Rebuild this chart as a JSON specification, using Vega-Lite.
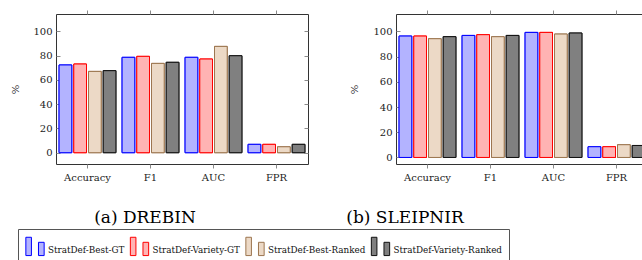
{
  "$schema": "https://vega.github.io/schema/vega-lite/v6.json",
  "background": "white",
  "padding": {"left": 9, "top": 9, "right": 0, "bottom": 0},
  "bounds": "flush",
  "spacing": 88,
  "data": {"values": [
    {"dataset": "DREBIN", "metric": "Accuracy", "method": "StratDef-Best-GT", "value": 72.3},
    {"dataset": "DREBIN", "metric": "Accuracy", "method": "StratDef-Variety-GT", "value": 73.1},
    {"dataset": "DREBIN", "metric": "Accuracy", "method": "StratDef-Best-Ranked", "value": 67.0},
    {"dataset": "DREBIN", "metric": "Accuracy", "method": "StratDef-Variety-Ranked", "value": 67.6},
    {"dataset": "DREBIN", "metric": "F1", "method": "StratDef-Best-GT", "value": 78.6},
    {"dataset": "DREBIN", "metric": "F1", "method": "StratDef-Variety-GT", "value": 79.4},
    {"dataset": "DREBIN", "metric": "F1", "method": "StratDef-Best-Ranked", "value": 73.6},
    {"dataset": "DREBIN", "metric": "F1", "method": "StratDef-Variety-Ranked", "value": 74.5},
    {"dataset": "DREBIN", "metric": "AUC", "method": "StratDef-Best-GT", "value": 78.6},
    {"dataset": "DREBIN", "metric": "AUC", "method": "StratDef-Variety-GT", "value": 77.2},
    {"dataset": "DREBIN", "metric": "AUC", "method": "StratDef-Best-Ranked", "value": 87.6},
    {"dataset": "DREBIN", "metric": "AUC", "method": "StratDef-Variety-Ranked", "value": 79.9},
    {"dataset": "DREBIN", "metric": "FPR", "method": "StratDef-Best-GT", "value": 6.9},
    {"dataset": "DREBIN", "metric": "FPR", "method": "StratDef-Variety-GT", "value": 6.9},
    {"dataset": "DREBIN", "metric": "FPR", "method": "StratDef-Best-Ranked", "value": 4.9},
    {"dataset": "DREBIN", "metric": "FPR", "method": "StratDef-Variety-Ranked", "value": 6.9},
    {"dataset": "SLEIPNIR", "metric": "Accuracy", "method": "StratDef-Best-GT", "value": 96.3},
    {"dataset": "SLEIPNIR", "metric": "Accuracy", "method": "StratDef-Variety-GT", "value": 96.3},
    {"dataset": "SLEIPNIR", "metric": "Accuracy", "method": "StratDef-Best-Ranked", "value": 94.2},
    {"dataset": "SLEIPNIR", "metric": "Accuracy", "method": "StratDef-Variety-Ranked", "value": 95.8},
    {"dataset": "SLEIPNIR", "metric": "F1", "method": "StratDef-Best-GT", "value": 96.8},
    {"dataset": "SLEIPNIR", "metric": "F1", "method": "StratDef-Variety-GT", "value": 97.4},
    {"dataset": "SLEIPNIR", "metric": "F1", "method": "StratDef-Best-Ranked", "value": 95.8},
    {"dataset": "SLEIPNIR", "metric": "F1", "method": "StratDef-Variety-Ranked", "value": 96.8},
    {"dataset": "SLEIPNIR", "metric": "AUC", "method": "StratDef-Best-GT", "value": 99.2},
    {"dataset": "SLEIPNIR", "metric": "AUC", "method": "StratDef-Variety-GT", "value": 99.2},
    {"dataset": "SLEIPNIR", "metric": "AUC", "method": "StratDef-Best-Ranked", "value": 97.9},
    {"dataset": "SLEIPNIR", "metric": "AUC", "method": "StratDef-Variety-Ranked", "value": 98.7},
    {"dataset": "SLEIPNIR", "metric": "FPR", "method": "StratDef-Best-GT", "value": 8.5},
    {"dataset": "SLEIPNIR", "metric": "FPR", "method": "StratDef-Variety-GT", "value": 8.5},
    {"dataset": "SLEIPNIR", "metric": "FPR", "method": "StratDef-Best-Ranked", "value": 10.1},
    {"dataset": "SLEIPNIR", "metric": "FPR", "method": "StratDef-Variety-Ranked", "value": 9.5}
  ]},
  "hconcat": [
    {
      "width": 252,
      "height": 150,
      "title": {"text": "(a) DREBIN", "orient": "bottom", "dx": -37, "offset": 28},
      "transform": [{"filter": "datum.dataset === 'DREBIN'"}],
      "encoding": {
        "xOffset": {"field": "method", "type": "nominal",
                    "sort": ["StratDef-Best-GT", "StratDef-Variety-GT", "StratDef-Best-Ranked", "StratDef-Variety-Ranked"],
                    "scale": {"paddingInner": 0.136, "paddingOuter": 0.21}},
        "color": {"field": "method", "type": "nominal", "title": null,
                  "scale": {"domain": ["StratDef-Best-GT", "StratDef-Variety-GT", "StratDef-Best-Ranked", "StratDef-Variety-Ranked"],
                            "range": ["#b3b3ff", "#ffb3b3", "#ecd9c6", "#808080"]}},
        "stroke": {"field": "method", "type": "nominal", "title": null,
                   "scale": {"domain": ["StratDef-Best-GT", "StratDef-Variety-GT", "StratDef-Best-Ranked", "StratDef-Variety-Ranked"],
                             "range": ["#0000ff", "#ff0000", "#9c7650", "#111111"]}}
      },
      "layer": [
        {
          "mark": {"type": "bar", "strokeWidth": 1},
          "encoding": {
            "x": {"field": "metric", "type": "nominal", "sort": ["Accuracy", "F1", "AUC", "FPR"],
                  "scale": {"paddingInner": 0, "paddingOuter": 0},
                  "axis": {"orient": "bottom", "title": null, "labelAngle": 0, "tickSize": 4, "labelPadding": 4}},
            "y": {"field": "value", "type": "quantitative",
                  "scale": {"domain": [-9.3, 114.3], "nice": false, "zero": false},
                  "axis": {"orient": "left", "title": "%", "values": [0, 20, 40, 60, 80, 100], "tickSize": -4, "labelPadding": 8,
                           "titleX": -41, "titleY": 75, "titleAngle": -90, "titleBaseline": "middle", "titleAlign": "center"}}
          }
        },
        {
          "mark": {"type": "bar", "strokeWidth": 1},
          "encoding": {
            "x": {"field": "metric", "type": "nominal", "sort": ["Accuracy", "F1", "AUC", "FPR"],
                  "axis": {"orient": "top", "title": null, "labels": false, "tickSize": 4}},
            "y": {"field": "value", "type": "quantitative",
                  "axis": {"orient": "right", "title": null, "labels": false, "values": [0, 20, 40, 60, 80, 100], "tickSize": -4}}
          }
        }
      ],
      "resolve": {"axis": {"x": "independent", "y": "independent"}}
    },
    {
      "width": 252,
      "height": 150,
      "title": {"text": "(b) SLEIPNIR", "orient": "bottom", "dx": -117, "offset": 28},
      "transform": [{"filter": "datum.dataset === 'SLEIPNIR'"}],
      "encoding": {
        "xOffset": {"field": "method", "type": "nominal",
                    "sort": ["StratDef-Best-GT", "StratDef-Variety-GT", "StratDef-Best-Ranked", "StratDef-Variety-Ranked"],
                    "scale": {"paddingInner": 0.136, "paddingOuter": 0.21}},
        "color": {"field": "method", "type": "nominal", "title": null,
                  "scale": {"domain": ["StratDef-Best-GT", "StratDef-Variety-GT", "StratDef-Best-Ranked", "StratDef-Variety-Ranked"],
                            "range": ["#b3b3ff", "#ffb3b3", "#ecd9c6", "#808080"]}},
        "stroke": {"field": "method", "type": "nominal", "title": null,
                   "scale": {"domain": ["StratDef-Best-GT", "StratDef-Variety-GT", "StratDef-Best-Ranked", "StratDef-Variety-Ranked"],
                             "range": ["#0000ff", "#ff0000", "#9c7650", "#111111"]}}
      },
      "layer": [
        {
          "mark": {"type": "bar", "strokeWidth": 1},
          "encoding": {
            "x": {"field": "metric", "type": "nominal", "sort": ["Accuracy", "F1", "AUC", "FPR"],
                  "scale": {"paddingInner": 0, "paddingOuter": 0},
                  "axis": {"orient": "bottom", "title": null, "labelAngle": 0, "tickSize": 4, "labelPadding": 4}},
            "y": {"field": "value", "type": "quantitative",
                  "scale": {"domain": [-5.2, 113.8], "nice": false, "zero": false},
                  "axis": {"orient": "left", "title": "%", "values": [0, 20, 40, 60, 80, 100], "tickSize": -4, "labelPadding": 8,
                           "titleX": -42, "titleY": 75, "titleAngle": -90, "titleBaseline": "middle", "titleAlign": "center"}}
          }
        },
        {
          "mark": {"type": "bar", "strokeWidth": 1},
          "encoding": {
            "x": {"field": "metric", "type": "nominal", "sort": ["Accuracy", "F1", "AUC", "FPR"],
                  "axis": {"orient": "top", "title": null, "labels": false, "tickSize": 4}},
            "y": {"field": "value", "type": "quantitative",
                  "axis": {"orient": "right", "title": null, "labels": false, "values": [0, 20, 40, 60, 80, 100], "tickSize": -4}}
          }
        }
      ],
      "resolve": {"axis": {"x": "independent", "y": "independent"}}
    }
  ],
  "config": {
    "font": "DejaVu Serif",
    "view": {"stroke": "#333333", "strokeWidth": 1},
    "axis": {"domain": false, "grid": false, "ticks": true, "tickColor": "#8a8a8a", "tickWidth": 1,
             "labelFont": "DejaVu Serif", "labelFontSize": 10, "labelColor": "#222222",
             "titleFont": "DejaVu Serif", "titleFontSize": 10, "titleFontWeight": "normal", "titleColor": "#222222"},
    "title": {"font": "DejaVu Serif", "fontSize": 17, "fontWeight": "normal", "color": "#000000", "anchor": "middle"},
    "legend": {"orient": "none", "legendX": -38, "legendY": 215, "direction": "horizontal", "columns": 4,
               "symbolType": "M-1,-1H-0.39V1H-1Z M0.38,-0.45H1V1H0.38Z", "symbolSize": 335, "symbolStrokeWidth": 1,
               "labelFont": "DejaVu Serif", "labelFontSize": 8.8, "labelColor": "#111111", "labelOffset": 3, "columnPadding": 2.5,
               "labelBaseline": "top",
               "strokeColor": "#555555", "padding": 7, "cornerRadius": 0, "labelLimit": 300}
  }
}
